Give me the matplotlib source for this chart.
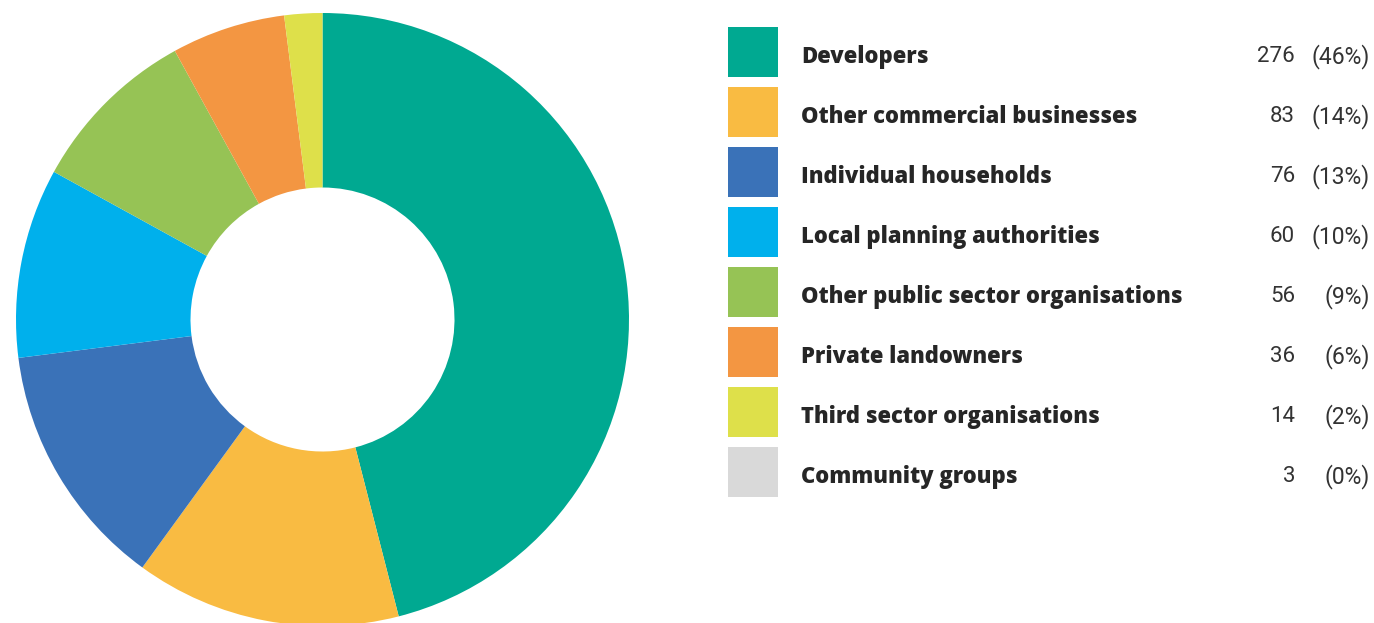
import matplotlib
matplotlib.use("Agg")
import matplotlib.pyplot as plt
from matplotlib.patches import Rectangle

categories = [
    "Developers",
    "Other commercial businesses",
    "Individual households",
    "Local planning authorities",
    "Other public sector organisations",
    "Private landowners",
    "Third sector organisations",
    "Community groups",
]
counts = [276, 83, 76, 60, 56, 36, 14, 3]
percents = [46, 14, 13, 10, 9, 6, 2, 0]
colors = ["#00a991", "#f9bb42", "#3a72b8", "#00b0ec",
          "#96c355", "#f39642", "#dee04a", "#d9d9d9"]

W, H = 1374, 623
fig = plt.figure(figsize=(W / 100, H / 100), dpi=100)
fig.patch.set_facecolor("white")

# Donut chart
cx, cy, r = 322.5, 319.5, 306.5
ax = fig.add_axes([(cx - r) / W, (H - cy - r) / H, 2 * r / W, 2 * r / H])
ax.pie(percents, colors=colors, startangle=90, counterclock=False,
       radius=1.0, wedgeprops=dict(width=1 - 132 / r, linewidth=0))
ax.set_xlim(-1, 1)
ax.set_ylim(-1, 1)
ax.set_aspect("equal")
ax.axis("off")

# Legend table
lg = fig.add_axes([0, 0, 1, 1])
lg.set_xlim(0, W)
lg.set_ylim(H, 0)
lg.axis("off")

row0, step = 52, 60
for i, (cat, n, p, c) in enumerate(zip(categories, counts, percents, colors)):
    yc = row0 + i * step
    lg.add_patch(Rectangle((728, yc - 25), 50, 50, facecolor=c, edgecolor="none"))
    lg.text(801, yc + 2, cat, fontsize=15.8, fontweight="heavy", family="Open Sans",
            color="#262626", va="center_baseline", ha="left")
    lg.text(1295, yc + 2, f"{n}", fontsize=16, family="Roboto",
            color="#333333", va="center_baseline", ha="right")
    lg.text(1370, yc + 2, f"({p}%)", fontsize=16.5, family="Roboto",
            color="#333333", va="center_baseline", ha="right")

fig.savefig("out.png", dpi=100, facecolor="white")
